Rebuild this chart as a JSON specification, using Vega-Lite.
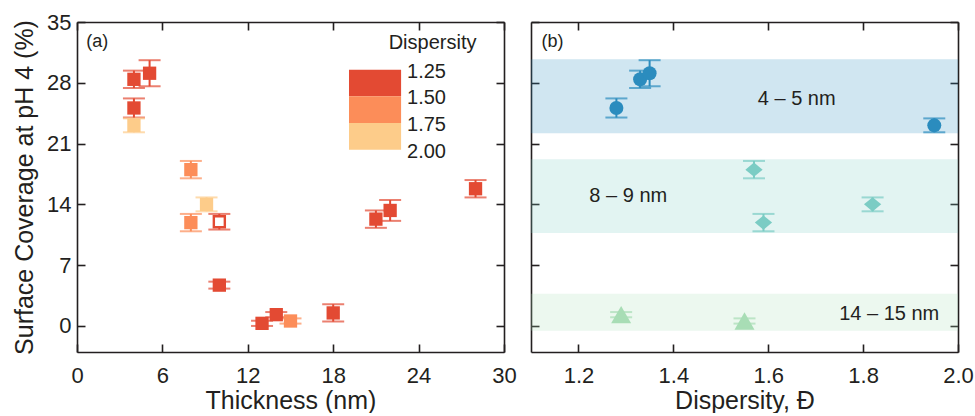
{
  "$schema": "https://vega.github.io/schema/vega-lite/v6.json",
  "background": "white",
  "padding": {"left": 12, "top": 11, "right": 0, "bottom": 0},
  "spacing": 13,
  "config": {
    "view": {"stroke": null},
    "font": "Liberation Sans",
    "axis": {
      "grid": false,
      "domainColor": "#231f20",
      "domainWidth": 1.6,
      "tickColor": "#231f20",
      "tickWidth": 1.6,
      "tickSize": -8,
      "labelFontSize": 22,
      "labelColor": "#231f20",
      "labelFont": "Liberation Sans",
      "titleFont": "Liberation Sans",
      "titleFontSize": 25,
      "titleFontWeight": "normal",
      "titleColor": "#231f20",
      "labelFlush": false,
      "labelOverlap": false
    },
    "axisX": {"labelPadding": 21, "titlePadding": 2},
    "axisY": {"labelPadding": 14, "titlePadding": 9}
  },
  "datasets": {
    "samples": [
      {"thickness": 4.0, "coverage": 28.4, "err": 1.0, "dispersity": 1.33, "marker": "filled", "group": "4 – 5 nm"},
      {"thickness": 5.1, "coverage": 29.1, "err": 1.5, "dispersity": 1.35, "marker": "filled", "group": "4 – 5 nm"},
      {"thickness": 4.0, "coverage": 25.1, "err": 1.1, "dispersity": 1.28, "marker": "filled", "group": "4 – 5 nm"},
      {"thickness": 4.0, "coverage": 23.1, "err": 0.8, "dispersity": 1.95, "marker": "filled", "group": "4 – 5 nm"},
      {"thickness": 8.0, "coverage": 18.0, "err": 1.0, "dispersity": 1.57, "marker": "filled", "group": "8 – 9 nm"},
      {"thickness": 9.1, "coverage": 14.0, "err": 0.8, "dispersity": 1.82, "marker": "filled", "group": "8 – 9 nm"},
      {"thickness": 8.0, "coverage": 11.9, "err": 1.0, "dispersity": 1.59, "marker": "filled", "group": "8 – 9 nm"},
      {"thickness": 10.0, "coverage": 12.0, "err": 0.9, "dispersity": 1.3, "marker": "open", "group": null},
      {"thickness": 10.0, "coverage": 4.7, "err": 0.4, "dispersity": 1.3, "marker": "filled", "group": null},
      {"thickness": 13.0, "coverage": 0.3, "err": 0.3, "dispersity": 1.3, "marker": "filled", "group": null},
      {"thickness": 14.0, "coverage": 1.3, "err": 0.3, "dispersity": 1.29, "marker": "filled", "group": "14 – 15 nm"},
      {"thickness": 15.0, "coverage": 0.57, "err": 0.3, "dispersity": 1.55, "marker": "filled", "group": "14 – 15 nm"},
      {"thickness": 18.0, "coverage": 1.5, "err": 1.0, "dispersity": 1.3, "marker": "filled", "group": null},
      {"thickness": 21.0, "coverage": 12.3, "err": 1.0, "dispersity": 1.3, "marker": "filled", "group": null},
      {"thickness": 22.0, "coverage": 13.3, "err": 1.2, "dispersity": 1.3, "marker": "filled", "group": null},
      {"thickness": 28.0, "coverage": 15.8, "err": 1.0, "dispersity": 1.3, "marker": "filled", "group": null}
    ],
    "legendBins": [
      {"dispersity": 1.25, "upper": 1.5},
      {"dispersity": 1.5, "upper": 1.75},
      {"dispersity": 1.75, "upper": 2.0}
    ],
    "legendLabels": [
      {"dispersity": 1.25},
      {"dispersity": 1.5},
      {"dispersity": 1.75},
      {"dispersity": 2.0}
    ],
    "bands": [
      {"group": "4 – 5 nm", "lo": 22.2, "hi": 30.7, "labelX": 1.66, "labelY": 26.1},
      {"group": "8 – 9 nm", "lo": 10.7, "hi": 19.2, "labelX": 1.305, "labelY": 15.0},
      {"group": "14 – 15 nm", "lo": -0.55, "hi": 3.7, "labelX": 1.855, "labelY": 1.4}
    ]
  },
  "resolve": {"scale": {"color": "independent", "shape": "independent", "size": "independent"}},
  "hconcat": [
    {
      "width": 427,
      "height": 330,
      "data": {"name": "samples"},
      "resolve": {"scale": {"y": "independent"}, "axis": {"x": "independent", "y": "independent"}},
      "layer": [
        {
          "mark": {"type": "errorbar", "ticks": true, "size": 22, "thickness": 2},
          "encoding": {
            "x": {"field": "thickness", "type": "quantitative", "scale": {"domain": [0, 30], "nice": false, "zero": false}, "axis": null},
            "y": {"field": "coverage", "type": "quantitative", "scale": {"domain": [-3, 35], "nice": false, "zero": false}, "axis": null},
            "yError": {"field": "err"},
            "color": {"field": "dispersity", "type": "quantitative", "scale": {"type": "quantize", "domain": [1.25, 2.0], "nice": false, "zero": false, "range": ["#e34a33", "#fc8d59", "#fdcc8a"]}, "legend": null}
          }
        },
        {
          "transform": [{"filter": "datum.marker === 'filled'"}],
          "mark": {"type": "square", "size": 177, "opacity": 1},
          "encoding": {
            "x": {"field": "thickness", "type": "quantitative", "scale": {"domain": [0, 30], "nice": false, "zero": false},
                  "axis": {"orient": "bottom", "title": "Thickness (nm)", "values": [0, 6, 12, 18, 24, 30]}},
            "y": {"field": "coverage", "type": "quantitative", "scale": {"domain": [-3, 35], "nice": false, "zero": false},
                  "axis": {"orient": "left", "title": "Surface Coverage at pH 4 (%)", "values": [0, 7, 14, 21, 28, 35]}},
            "color": {"field": "dispersity", "type": "quantitative", "scale": {"type": "quantize", "domain": [1.25, 2.0], "nice": false, "zero": false, "range": ["#e34a33", "#fc8d59", "#fdcc8a"]}, "legend": null}
          }
        },
        {
          "transform": [{"filter": "datum.marker === 'open'"}],
          "mark": {"type": "point", "shape": "square", "size": 121, "fill": "white", "strokeWidth": 2.4, "opacity": 1},
          "encoding": {
            "x": {"field": "thickness", "type": "quantitative", "scale": {"domain": [0, 30], "nice": false, "zero": false},
                  "axis": {"orient": "top", "title": null, "labels": false, "values": [0, 6, 12, 18, 24, 30]}},
            "y": {"field": "coverage", "type": "quantitative", "scale": {"domain": [-3, 35], "nice": false, "zero": false},
                  "axis": {"orient": "right", "title": null, "labels": false, "values": [0, 7, 14, 21, 28, 35]}},
            "color": {"field": "dispersity", "type": "quantitative", "scale": {"type": "quantize", "domain": [1.25, 2.0], "nice": false, "zero": false, "range": ["#e34a33", "#fc8d59", "#fdcc8a"]}, "legend": null}
          }
        },
        {
          "data": {"name": "legendBins"},
          "mark": {"type": "rect", "opacity": 1},
          "encoding": {
            "x": {"datum": 19.11, "type": "quantitative", "scale": {"domain": [0, 30], "nice": false, "zero": false}, "axis": null},
            "x2": {"datum": 22.77},
            "y": {"field": "dispersity", "type": "quantitative", "scale": {"domain": [0.803, 3.8965], "reverse": true, "nice": false, "zero": false}, "axis": null},
            "y2": {"field": "upper"},
            "color": {"field": "dispersity", "type": "quantitative", "scale": {"type": "quantize", "domain": [1.25, 2.0], "nice": false, "zero": false, "range": ["#e34a33", "#fc8d59", "#fdcc8a"]}, "legend": null}
          }
        },
        {
          "data": {"name": "legendLabels"},
          "mark": {"type": "text", "align": "left", "baseline": "middle", "dy": 2, "fontSize": 20, "color": "#231f20"},
          "encoding": {
            "x": {"datum": 23.19, "type": "quantitative", "scale": {"domain": [0, 30], "nice": false, "zero": false}, "axis": null},
            "y": {"field": "dispersity", "type": "quantitative", "scale": {"domain": [0.803, 3.8965], "reverse": true, "nice": false, "zero": false}, "axis": null},
            "text": {"field": "dispersity", "type": "quantitative", "format": ".2f"}
          }
        },
        {
          "data": {"values": [{"label": "Dispersity"}]},
          "mark": {"type": "text", "align": "center", "baseline": "middle", "fontSize": 20, "color": "#231f20"},
          "encoding": {
            "x": {"datum": 24.98, "type": "quantitative", "scale": {"domain": [0, 30], "nice": false, "zero": false}, "axis": null},
            "y": {"datum": 32.6, "type": "quantitative", "scale": {"domain": [-3, 35], "nice": false, "zero": false}, "axis": null},
            "text": {"field": "label"}
          }
        },
        {
          "data": {"values": [{"label": "(a)"}]},
          "mark": {"type": "text", "align": "left", "baseline": "middle", "fontSize": 18, "color": "#231f20"},
          "encoding": {
            "x": {"datum": 0.65, "type": "quantitative", "scale": {"domain": [0, 30], "nice": false, "zero": false}, "axis": null},
            "y": {"datum": 32.7, "type": "quantitative", "scale": {"domain": [-3, 35], "nice": false, "zero": false}, "axis": null},
            "text": {"field": "label"}
          }
        }
      ]
    },
    {
      "width": 427,
      "height": 330,
      "resolve": {"axis": {"x": "independent", "y": "independent"}},
      "layer": [
        {
          "data": {"name": "bands"},
          "mark": {"type": "rect", "opacity": 0.22},
          "encoding": {
            "y": {"field": "lo", "type": "quantitative", "scale": {"domain": [-3, 35], "nice": false, "zero": false}, "axis": null},
            "y2": {"field": "hi"},
            "color": {"field": "group", "type": "nominal", "scale": {"domain": ["4 – 5 nm", "8 – 9 nm", "14 – 15 nm"], "range": ["#2b8cbe", "#7bccc4", "#a8ddb5"]}, "legend": null}
          }
        },
        {
          "data": {"name": "samples"},
          "transform": [{"filter": "datum.group != null"}],
          "mark": {"type": "errorbar", "ticks": true, "size": 22, "thickness": 2},
          "encoding": {
            "x": {"field": "dispersity", "type": "quantitative", "scale": {"domain": [1.1, 2.0], "nice": false, "zero": false}, "axis": null},
            "y": {"field": "coverage", "type": "quantitative", "scale": {"domain": [-3, 35], "nice": false, "zero": false}, "axis": null},
            "yError": {"field": "err"},
            "color": {"field": "group", "type": "nominal", "scale": {"domain": ["4 – 5 nm", "8 – 9 nm", "14 – 15 nm"], "range": ["#2b8cbe", "#7bccc4", "#a8ddb5"]}, "legend": null}
          }
        },
        {
          "data": {"name": "samples"},
          "transform": [{"filter": "datum.group != null"}],
          "mark": {"type": "point", "filled": true, "opacity": 1},
          "encoding": {
            "x": {"field": "dispersity", "type": "quantitative", "scale": {"domain": [1.1, 2.0], "nice": false, "zero": false},
                  "axis": {"orient": "bottom", "title": "Dispersity, Đ", "values": [1.2, 1.4, 1.6, 1.8, 2.0], "format": ".1f"}},
            "y": {"field": "coverage", "type": "quantitative", "scale": {"domain": [-3, 35], "nice": false, "zero": false},
                  "axis": {"orient": "left", "title": null, "labels": false, "values": [0, 7, 14, 21, 28, 35]}},
            "color": {"field": "group", "type": "nominal", "scale": {"domain": ["4 – 5 nm", "8 – 9 nm", "14 – 15 nm"], "range": ["#2b8cbe", "#7bccc4", "#a8ddb5"]}, "legend": null},
            "shape": {"field": "group", "type": "nominal", "scale": {"domain": ["4 – 5 nm", "8 – 9 nm", "14 – 15 nm"], "range": ["circle", "M-1,0L0,-0.82L1,0L0,0.82Z", "triangle-up"]}, "legend": null},
            "size": {"field": "group", "type": "nominal", "scale": {"domain": ["4 – 5 nm", "8 – 9 nm", "14 – 15 nm"], "range": [196, 400, 196]}, "legend": null}
          }
        },
        {
          "data": {"name": "bands"},
          "mark": {"type": "text", "align": "center", "baseline": "middle", "fontSize": 20, "color": "#231f20"},
          "encoding": {
            "x": {"field": "labelX", "type": "quantitative", "scale": {"domain": [1.1, 2.0], "nice": false, "zero": false},
                  "axis": {"orient": "top", "title": null, "labels": false, "values": [1.2, 1.4, 1.6, 1.8, 2.0]}},
            "y": {"field": "labelY", "type": "quantitative", "scale": {"domain": [-3, 35], "nice": false, "zero": false},
                  "axis": {"orient": "right", "title": null, "labels": false, "values": [0, 7, 14, 21, 28, 35]}},
            "text": {"field": "group"}
          }
        },
        {
          "data": {"values": [{"label": "(b)"}]},
          "mark": {"type": "text", "align": "left", "baseline": "middle", "fontSize": 18, "color": "#231f20"},
          "encoding": {
            "x": {"datum": 1.122, "type": "quantitative", "axis": null},
            "y": {"datum": 32.7, "type": "quantitative", "axis": null},
            "text": {"field": "label"}
          }
        }
      ]
    }
  ]
}
